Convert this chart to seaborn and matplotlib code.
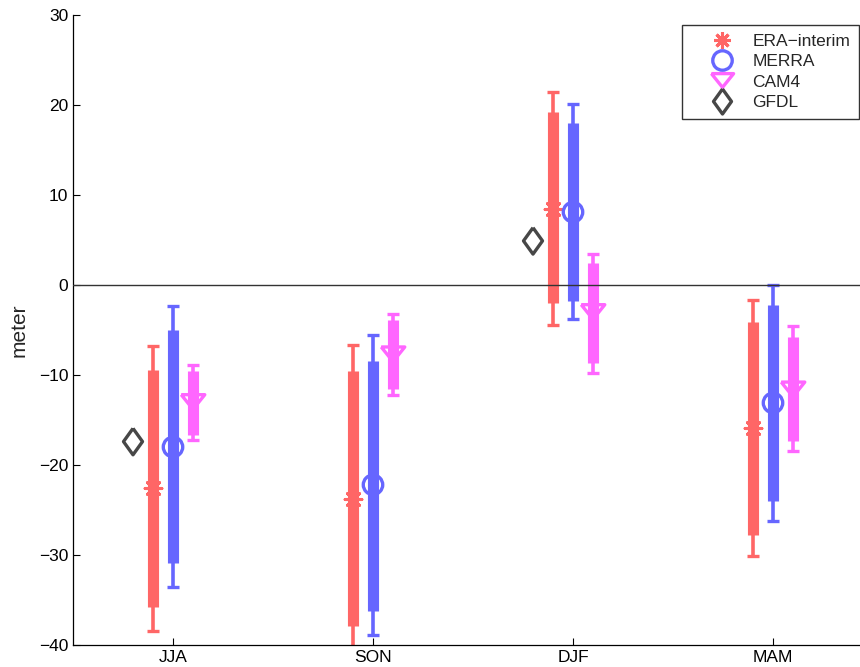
import matplotlib
matplotlib.use("Agg")
import matplotlib.pyplot as plt
import seaborn as sns
import numpy as np
from matplotlib.lines import Line2D

seasons = ['JJA', 'SON', 'DJF', 'MAM']
models = ['ERA\u2212interim', 'MERRA', 'CAM4']

# per model: centre value, thick range (lo, hi), thin range (lo, hi)
era_mid = [-22.6, -23.8, 8.5, -15.9]
era_thick_lo = [-35.8, -37.9, -2.0, -27.8]
era_thick_hi = [-9.4, -9.6, 19.2, -4.1]
era_thin_lo = [-38.4, -42.0, -4.4, -30.1]
era_thin_hi = [-6.8, -6.7, 21.4, -1.7]

merra_mid = [-18.0, -22.2, 8.1, -13.1]
merra_thick_lo = [-30.9, -36.2, -1.8, -24.0]
merra_thick_hi = [-5.0, -8.4, 18.0, -2.2]
merra_thin_lo = [-33.6, -38.9, -3.8, -26.2]
merra_thin_hi = [-2.3, -5.6, 20.1, 0.0]

cam_mid = [-13.0, -7.7, -3.0, -11.6]
cam_thick_lo = [-16.7, -11.5, -8.7, -17.3]
cam_thick_hi = [-9.6, -3.9, 2.4, -5.8]
cam_thin_lo = [-17.2, -12.2, -9.8, -18.4]
cam_thin_hi = [-8.9, -3.2, 3.5, -4.6]

gfdl_seasons = ['JJA', 'DJF']
gfdl_val = [-17.4, 4.9]

sns.set_style('ticks')
plt.rcParams['font.family'] = ['Liberation Sans', 'DejaVu Sans']

fig = plt.figure(figsize=(8.6, 6.67), dpi=100)
ax = fig.add_axes([73 / 860, 22 / 667, 787 / 860, 630 / 667])

c_era = '#ff6666'
c_merra = '#6666ff'
c_cam = '#ff66ff'
c_gfdl = '#474747'

tri = [(-1, 0.62), (1, 0.62), (0, -0.62), (-1, 0.62)]
dia = [(0, 1), (0.72, 0), (0, -1), (-0.72, 0), (0, 1)]

xs = np.arange(1, len(seasons) + 1)

def draw(off, mid, tlo, thi, nlo, nhi, color, marker, ms, mew, fill):
    x = xs + off
    ax.vlines(x, nlo, nhi, color=color, lw=2.6, zorder=2)
    ax.plot(x, nlo, ls='none', marker='_', ms=9, mew=2.4, color=color, zorder=2)
    ax.plot(x, nhi, ls='none', marker='_', ms=9, mew=2.4, color=color, zorder=2)
    ax.vlines(x, tlo, thi, color=color, lw=8, zorder=3)
    sns.scatterplot(x=x, y=mid, ax=ax, marker=marker, s=ms ** 2,
                    facecolor=fill, edgecolor=color, color=color,
                    linewidth=mew, zorder=4, legend=False)

draw(-0.1, era_mid, era_thick_lo, era_thick_hi, era_thin_lo, era_thin_hi,
     c_era, (8, 2, 0), 12, 2.2, c_era)
draw(0.0, merra_mid, merra_thick_lo, merra_thick_hi, merra_thin_lo, merra_thin_hi,
     c_merra, 'o', 14, 2.4, 'none')
draw(0.1, cam_mid, cam_thick_lo, cam_thick_hi, cam_thin_lo, cam_thin_hi,
     c_cam, tri, 17, 2.4, 'none')

gx = [seasons.index(s) + 1 - 0.2 for s in gfdl_seasons]
sns.scatterplot(x=gx, y=gfdl_val, ax=ax, marker=dia, s=19 ** 2,
                facecolor='none', edgecolor=c_gfdl, linewidth=2.4,
                zorder=4, legend=False)

ax.axhline(0, color='#333333', lw=1.0, zorder=5)

ax.set_xlim(0.5, 0.5 + 787 / 200)
ax.set_ylim(-40, 30)
ax.set_xticks(xs)
ax.set_xticklabels(seasons)
ax.set_yticks(np.arange(-40, 31, 10))
ax.set_yticklabels([str(v).replace('-', '\u2212') for v in range(-40, 31, 10)])
ax.tick_params(direction='in', length=5, width=0.8, labelsize=12.5, colors='black')
ax.set_ylabel('meter', fontsize=15, labelpad=7)
sns.despine(ax=ax, top=True, right=True)
for s in ['left', 'bottom']:
    ax.spines[s].set_color('black')
    ax.spines[s].set_linewidth(0.9)

handles = [
    Line2D([], [], ls='none', marker=(8, 2, 0), ms=12, mew=2.2, color=c_era),
    Line2D([], [], ls='none', marker='o', ms=14, mew=2.4, mfc='none', color=c_merra),
    Line2D([], [], ls='none', marker=tri, ms=16, mew=2.4, mfc='none', color=c_cam),
    Line2D([], [], ls='none', marker=dia, ms=18, mew=2.4, mfc='none', color=c_gfdl),
]
leg = fig.legend(handles, models + ['GFDL'], loc='upper right',
                 bbox_to_anchor=(859 / 860, 1 - 25 / 667), fontsize=12.5,
                 frameon=True, fancybox=False, edgecolor='black',
                 borderpad=0.5, labelspacing=0.3, handletextpad=-0.07,
                 handlelength=3.6, borderaxespad=0)
leg.get_frame().set_linewidth(1.0)

fig.savefig('out.png', dpi=100)
